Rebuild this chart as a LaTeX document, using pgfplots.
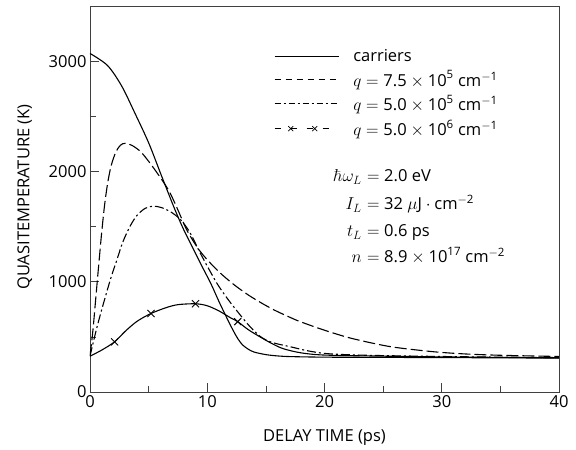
\documentclass[border=0pt]{standalone}
\usepackage[no-math]{fontspec}
\setmainfont{Open Sans}
\usepackage{pgfplots}
\usetikzlibrary{calc}
\pgfplotsset{compat=1.18}
\newcommand{\fs}{\fontsize{16.5}{19}\selectfont}
\newcommand{\sups}[1]{\mbox{\fontsize{11.5}{12}\selectfont #1}}
\newcommand{\lhs}[1]{\makebox[30pt][r]{$#1$\hspace{0.5pt}}}
\begin{document}
\begin{tikzpicture}
\useasboundingbox (-90pt,-58pt) rectangle (486pt,392pt);
\begin{axis}[
  at={(0pt,0pt)}, anchor=south west,
  scale only axis, width=469pt, height=386pt,
  xmin=0, xmax=40, ymin=0, ymax=3500,
  xtick={0,10,20,30,40}, minor xtick={5,15,25,35},
  ytick={0,1000,2000,3000}, minor ytick={500,1500,2500},
  tick align=inside, xtick pos=bottom, ytick pos=left,
  major tick length=9pt, minor tick length=6pt,
  every tick/.style={black!75, line width=0.6pt},
  axis line style={black!75, line width=0.8pt},
  /pgf/number format/assume math mode=true,
  /pgf/number format/1000 sep={},
  tick label style={font=\fs},
  label style={font=\fs},
  xlabel={DELAY TIME (ps)},
  ylabel={QUASITEMPERATURE (K)},
  xlabel style={at={(axis description cs:0.5,-0.117)}, anchor=center},
  ylabel style={at={(axis description cs:-0.139,0.505)}, anchor=center},
  legend style={draw=none, fill=none, at={(axis cs:15.7,3125)}, anchor=north west,
    font=\fs, row sep=3.6pt, inner sep=0pt,
    /tikz/every even column/.append style={column sep=0pt}},
  legend cell align=left,
]
% carriers
\addplot[black, line width=1.1pt, smooth, tension=0.5,
  legend image code/.code={\draw[black, line width=0.9pt] (0pt,0pt) -- (64pt,0pt); \path (76pt,0pt);}]
coordinates {(0,3070)(1.5,2960)(2.7,2775)(3.8,2535)(5,2260)(6.1,1960)(7.2,1665)(8,1470)(8.8,1300)(9.5,1150)(10.3,985)(11,820)(11.7,665)(12.2,560)(12.6,485)(13,428)(13.5,388)(14,362)(15,339)(16,327)(17.1,321)(20,316)(25,314)(30,312)(35,310)(40,307)};
\addlegendentry{carriers}
% q = 7.5e5
\addplot[black, line width=1.1pt, smooth, tension=0.5, dash pattern=on 12pt off 4pt,
  legend image code/.code={\draw[black, line width=0.9pt, dash pattern=on 6pt off 5pt] (0pt,0pt) -- (64pt,0pt); \path (76pt,0pt);}]
coordinates {(0,325)(0.25,560)(0.5,860)(0.75,1160)(1.0,1450)(1.25,1700)(1.5,1890)(1.8,2050)(2.2,2175)(2.6,2238)(3.0,2255)(3.6,2235)(4.4,2170)(5.5,2020)(6.7,1830)(7.5,1650)(8.3,1460)(9.4,1275)(10.8,1110)(12.2,980)(13.7,866)(15.5,755)(17.1,675)(18,635)(20,560)(22,495)(24,445)(26,405)(29.3,365)(32,345)(35,333)(40,322)};
\addlegendentry{$q = \mbox{7.5} \times \mbox{10}^{\sups{5}}$ cm$^{\sups{$-$1}}$}
% q = 5.0e5
\addplot[black, line width=1.1pt, smooth, tension=0.5, dash pattern=on 9pt off 3pt on 2pt off 3pt,
  legend image code/.code={\draw[black, line width=0.9pt, dash pattern=on 6pt off 3pt on 2pt off 3pt] (0pt,0pt) -- (64pt,0pt); \path (76pt,0pt);}]
coordinates {(0,325)(0.6,590)(1.3,860)(1.8,1040)(2.3,1200)(2.8,1360)(3.4,1500)(4.0,1600)(4.7,1665)(5.4,1685)(6.1,1672)(6.9,1632)(7.7,1565)(8.5,1450)(9.5,1240)(10.8,990)(11.7,850)(12.5,740)(13.5,610)(14.5,505)(15.5,450)(17.1,410)(18.5,375)(20,350)(22,338)(25,330)(30,322)(35,316)(40,312)};
\addlegendentry{$q = \mbox{5.0} \times \mbox{10}^{\sups{5}}$ cm$^{\sups{$-$1}}$}
% q = 5.0e6
\addplot[black, line width=1.1pt, smooth, tension=0.5,
  legend image code/.code={\draw[black, line width=0.9pt, dash pattern=on 6pt off 10pt] (0pt,0pt) -- (64pt,0pt);
    \foreach \xx in {16pt,40pt} {\draw[black, line width=0.7pt] ($(\xx,0pt)+(-2.5pt,-2.5pt)$) -- ++(5pt,5pt) ($(\xx,0pt)+(-2.5pt,2.5pt)$) -- ++(5pt,-5pt);} \path (76pt,0pt);}]
coordinates {(0,325)(1,380)(2.1,455)(3,550)(4,640)(5.2,712)(6.5,765)(7.5,792)(9,800)(10,782)(11,735)(12,672)(12.6,638)(13.5,565)(14.5,500)(15.5,440)(16.5,392)(18,355)(20,335)(25,325)(30,318)(40,310)};
\addlegendentry{$q = \mbox{5.0} \times \mbox{10}^{\sups{6}}$ cm$^{\sups{$-$1}}$}
\addplot[black, only marks, mark=x, mark size=5pt, line width=0.9pt, forget plot]
coordinates {(2.1,455)(5.2,712)(9.0,800)(12.6,638)};
% parameters
\node[anchor=base west, font=\fs, inner xsep=0pt] at (axis cs:20.64,1909) {\lhs{\hbar\omega_L}${}=\mbox{2.0 eV}$};
\node[anchor=base west, font=\fs, inner xsep=0pt] at (axis cs:20.64,1655) {\lhs{I_L}${}=\mbox{32 }\mu\mbox{J}\cdot\mbox{cm}^{\sups{$-$2}}$};
\node[anchor=base west, font=\fs, inner xsep=0pt] at (axis cs:20.64,1409) {\lhs{t_L}${}=\mbox{0.6 ps}$};
\node[anchor=base west, font=\fs, inner xsep=0pt] at (axis cs:20.64,1173) {\lhs{n}${}=\mbox{8.9}\times\mbox{10}^{\sups{17}}$ cm$^{\sups{$-$2}}$};
\end{axis}
\end{tikzpicture}
\end{document}
